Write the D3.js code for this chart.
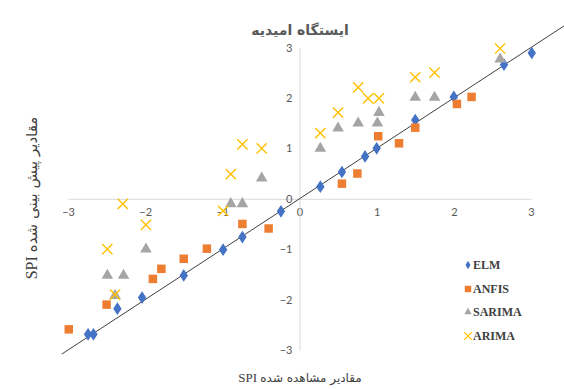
<!DOCTYPE html>
<html>
<head>
<meta charset="utf-8">
<script src="https://cdn.jsdelivr.net/npm/d3@7"></script>
<style>
  html, body { margin: 0; padding: 0; background: #fff; }
  svg { display: block; }
</style>
</head>
<body>
<svg id="chart" width="564" height="389"></svg>
<script>
// Observed vs. predicted SPI values for each model
const elmObs  = [-2.74, -2.67, -2.36, -2.04, -1.50, -0.99, -0.74, -0.24, 0.27, 0.55, 0.85, 1.00, 1.50, 2.00, 2.65, 3.01];
const elmPred = [-2.69, -2.69, -2.18, -1.96, -1.52, -1.01, -0.76, -0.25, 0.24, 0.53, 0.84, 1.00, 1.56, 2.02, 2.66, 2.89];

const anfisObs  = [-2.99, -2.50, -1.90, -1.79, -1.50, -1.20, -0.74, -0.40, 0.55, 0.75, 1.02, 1.29, 1.50, 2.04, 2.23];
const anfisPred = [-2.59, -2.10, -1.59, -1.39, -1.19, -0.99, -0.50, -0.59, 0.30, 0.50, 1.24, 1.10, 1.41, 1.88, 2.02];

const sarimaObs  = [-2.49, -2.28, -2.39, -1.99, -0.89, -0.74, -0.49, 0.27, 0.50, 0.76, 1.01, 1.03, 1.50, 1.75, 2.60];
const sarimaPred = [-1.52, -1.52, -1.92, -1.00, -0.10, -0.10, 0.41, 1.00, 1.40, 1.50, 1.50, 1.71, 2.01, 2.01, 2.77];

const arimaObs  = [-2.49, -2.39, -2.29, -1.99, -0.99, -0.89, -0.74, -0.49, 0.27, 0.50, 0.76, 0.89, 1.03, 1.50, 1.75, 2.60];
const arimaPred = [-1.00, -1.90, -0.10, -0.52, -0.24, 0.49, 1.08, 1.00, 1.30, 1.71, 2.21, 1.99, 1.99, 2.41, 2.50, 2.98];

const seriesNames = ["ELM", "ANFIS", "SARIMA", "ARIMA"];
const seriesColors = ["#4472C4", "#ED7D31", "#A5A5A5", "#FFC000"];
const tickValues = [-3, -2, -1, 0, 1, 2, 3];
const fitLine = [-3.08, 3.6];

const titleText = "ایستگاه امیدیه";
const xTitleFa = "مقادیر مشاهده شده";
const yTitleFa = "مقادیر پیش بینی شده";
const unitLabel = "SPI";

const svg = d3.select("#chart");
const x = d3.scaleLinear().domain([-3, 3]).range([68, 531]);
const y = d3.scaleLinear().domain([-3, 3]).range([350, 47.5]);

const tickFont = "Lato, 'Open Sans', sans-serif";
const faFont = "'DejaVu Sans', sans-serif";
const latinSerif = "'Liberation Serif', serif";

// Axes crossing at the origin
const xAxis = svg.append("g")
  .attr("transform", `translate(0,${y(0)})`)
  .call(d3.axisBottom(x).tickValues(tickValues).tickSize(0).tickPadding(9).tickFormat(d3.format("d")));
const yAxis = svg.append("g")
  .attr("transform", `translate(${x(0)},0)`)
  .call(d3.axisLeft(y).tickValues(tickValues).tickSize(0).tickPadding(7).tickFormat(d3.format("d")));

[xAxis, yAxis].forEach(g => {
  g.select(".domain").attr("stroke", "#d9d9d9").attr("stroke-width", 1);
  g.selectAll("text")
    .attr("fill", "#595959")
    .style("font-family", tickFont)
    .style("font-size", "11px");
});
yAxis.selectAll("text").attr("dy", "0.32em");

// Reference line y = x
svg.append("line")
  .attr("x1", x(fitLine[0])).attr("y1", y(fitLine[0]))
  .attr("x2", x(fitLine[1])).attr("y2", y(fitLine[1]))
  .attr("stroke", "#404040").attr("stroke-width", 1);

// Marker shapes per series
const diamond = d3.symbol().type(d3.symbolDiamond).size(46);
const square = d3.symbol().type(d3.symbolSquare).size(72);
const triangle = d3.symbol().type(d3.symbolTriangle).size(58);
const cross = d3.symbol().type(d3.symbolX).size(70);

function drawSeries(obs, pred, idx) {
  const color = seriesColors[idx];
  const pts = obs.map((o, i) => [o, pred[i]]);
  const g = svg.append("g").attr("class", "series-" + seriesNames[idx]);
  const sel = g.selectAll("path").data(pts).join("path")
    .attr("transform", d => `translate(${x(d[0])},${y(d[1])})`);
  if (idx === 0) sel.attr("d", d => diamond()).attr("fill", color).attr("transform", d => `translate(${x(d[0])},${y(d[1])}) scale(1.15,1)`);
  if (idx === 1) sel.attr("d", d => square()).attr("fill", color);
  if (idx === 2) sel.attr("d", d => triangle()).attr("fill", color);
  if (idx === 3) sel.attr("d", d => cross()).attr("fill", "none").attr("stroke", color).attr("stroke-width", 1.4);
}
drawSeries(elmObs, elmPred, 0);
drawSeries(anfisObs, anfisPred, 1);
drawSeries(sarimaObs, sarimaPred, 2);
drawSeries(arimaObs, arimaPred, 3);

// Title
svg.append("text")
  .attr("x", 300).attr("y", 35)
  .attr("text-anchor", "middle")
  .attr("fill", "#595959")
  .style("direction", "rtl")
  .style("font-family", faFont)
  .style("font-size", "14px")
  .style("font-weight", "bold")
  .style("letter-spacing", "0.5px")
  .text(titleText);

// Axis titles (right-to-left, with the Latin unit in a serif face)
function axisTitle(sel, fa, size) {
  sel.attr("text-anchor", "middle")
    .attr("fill", "#404040")
    .style("direction", "rtl")
    .style("white-space", "pre")
    .style("font-size", size + "px");
  sel.append("tspan").style("font-family", faFont).text(fa);
  sel.append("tspan").style("font-family", latinSerif).style("font-size", (size + 1) + "px").text("\u00A0" + unitLabel);
}

axisTitle(svg.append("text").attr("x", 300).attr("y", 382), xTitleFa, 12);
axisTitle(svg.append("text").attr("transform", "translate(37,198) rotate(-90)"), yTitleFa, 15);

// Legend
const legendY = [265, 289, 312, 336];
const legendShapes = [d3.symbol().type(d3.symbolDiamond).size(22), d3.symbol().type(d3.symbolSquare).size(42),
                      d3.symbol().type(d3.symbolTriangle).size(24), d3.symbol().type(d3.symbolX).size(40)];
const legend = svg.append("g");
seriesNames.forEach((name, i) => {
  const item = legend.append("g").attr("transform", `translate(468,${legendY[i]})`);
  const p = item.append("path").attr("d", legendShapes[i]());
  if (i === 3) p.attr("fill", "none").attr("stroke", seriesColors[i]).attr("stroke-width", 1.2);
  else p.attr("fill", seriesColors[i]);
  item.append("text")
    .attr("x", 5).attr("dy", "0.35em")
    .attr("fill", "#404040")
    .style("font-family", latinSerif)
    .style("font-size", "12px")
    .style("font-weight", "bold")
    .text(name);
});
</script>
</body>
</html>
